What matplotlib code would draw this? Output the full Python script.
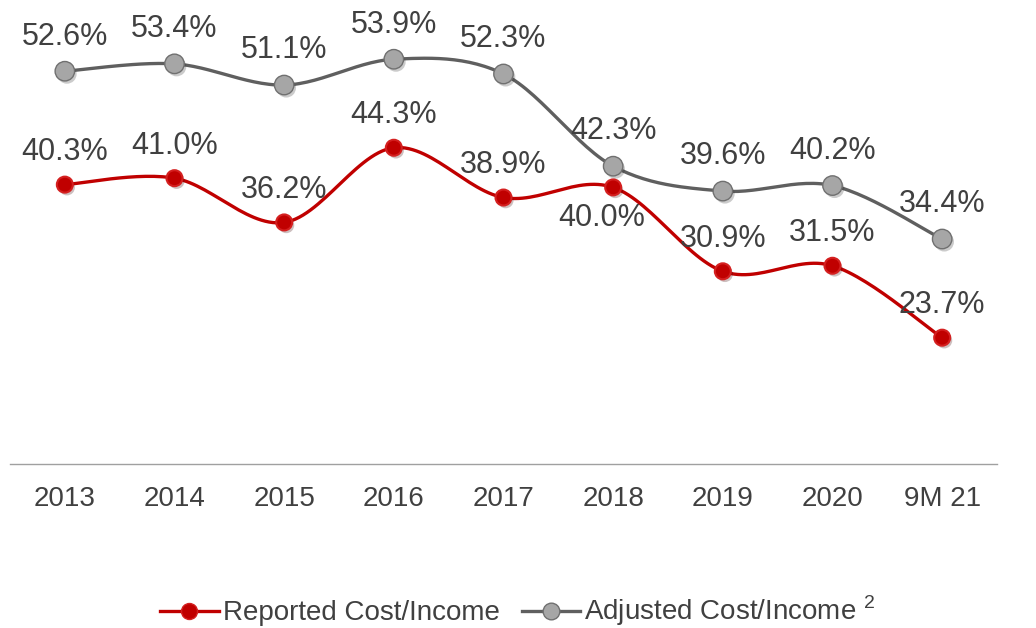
import numpy as np
import matplotlib.pyplot as plt
import matplotlib.patheffects as pe

plt.rcParams['font.family'] = ['Liberation Sans', 'DejaVu Sans']
plt.rcParams['mathtext.fontset'] = 'custom'
plt.rcParams['mathtext.rm'] = 'Liberation Sans'

years = ['2013', '2014', '2015', '2016', '2017', '2018', '2019', '2020', '9M 21']
reported = [40.3, 41.0, 36.2, 44.3, 38.9, 40.0, 30.9, 31.5, 23.7]
adjusted = [52.6, 53.4, 51.1, 53.9, 52.3, 42.3, 39.6, 40.2, 34.4]

RED = '#C00000'
GREY_LINE = '#5F5F5F'
GREY_FILL = '#A6A6A6'
TXT = '#404040'


def smooth(x, y, n=30):
    # catmull-rom style curve through the points, like office "smoothed line"
    x = np.asarray(x, float)
    y = np.asarray(y, float)
    px = np.concatenate([[x[0]], x, [x[-1]]])
    py = np.concatenate([[y[0]], y, [y[-1]]])
    xs, ys = [], []
    for i in range(1, len(px) - 2):
        p0 = np.array([px[i - 1], py[i - 1]])
        p1 = np.array([px[i], py[i]])
        p2 = np.array([px[i + 1], py[i + 1]])
        p3 = np.array([px[i + 2], py[i + 2]])
        c1 = p1 + (p2 - p0) / 6
        c2 = p2 - (p3 - p1) / 6
        t = np.linspace(0, 1, n)[:, None]
        b = ((1 - t) ** 3) * p1 + 3 * ((1 - t) ** 2) * t * c1 + 3 * (1 - t) * t ** 2 * c2 + t ** 3 * p2
        xs.append(b[:, 0])
        ys.append(b[:, 1])
    return np.concatenate(xs), np.concatenate(ys)


fig = plt.figure(figsize=(10.36, 6.28), dpi=100)
ax = fig.add_axes([10 / 1036, 164 / 628, 987 / 1036, 461 / 628])

x = np.arange(len(years))
shadow = [pe.SimplePatchShadow(offset=(1.5, -2), alpha=0.25), pe.Normal()]

sx, sy = smooth(x, adjusted)
ax.plot(sx, sy, color=GREY_LINE, lw=2.4, solid_capstyle='round', zorder=2)
ax.plot(x, adjusted, ls='none', marker='o', ms=14, mfc=GREY_FILL, mec='#707070',
        mew=1.0, zorder=3, path_effects=shadow)

sx, sy = smooth(x, reported)
ax.plot(sx, sy, color=RED, lw=2.4, solid_capstyle='round', zorder=2)
ax.plot(x, reported, ls='none', marker='o', ms=11.5, mfc=RED, mec='#D42020',
        mew=1.5, zorder=3, path_effects=shadow)

for i, v in enumerate(adjusted):
    ax.annotate(f'{v:.1f}%', (i, v), xytext=(0, 25), textcoords='offset points',
                ha='center', va='center', fontsize=22, color=TXT)
for i, v in enumerate(reported):
    off = (-8, -22) if years[i] == '2018' else (0, 23.5)
    ax.annotate(f'{v:.1f}%', (i, v), xytext=off, textcoords='offset points',
                ha='center', va='center', fontsize=22, color=TXT)

ax.set_xlim(-0.5, len(years) - 0.5)
ax.set_ylim(10, 60)
ax.set_xticks(x)
ax.set_xticklabels(years, fontsize=20, color=TXT)
ax.tick_params(axis='x', length=0, pad=16)
ax.set_yticks([])
for s in ['left', 'right', 'top']:
    ax.spines[s].set_visible(False)
ax.spines['bottom'].set_color('#A0A0A0')
ax.spines['bottom'].set_linewidth(1.0)

# legend handles
h1, = ax.plot([], [], color=RED, lw=2.4, marker='o', ms=11.5, mfc=RED, mec='#D42020')
h2, = ax.plot([], [], color=GREY_LINE, lw=2.4, marker='o', ms=12, mfc=GREY_FILL, mec='#707070')
fig.legend([h1, h2], ['Reported Cost/Income', r'Adjusted Cost/Income $^{2}$'],
           loc='center', bbox_to_anchor=(0.5, 1 - 611 / 628), ncol=2, frameon=False,
           fontsize=20, labelcolor=TXT, handlelength=2.1, handletextpad=0.15,
           columnspacing=0.8)

fig.savefig('out.png', dpi=100)
